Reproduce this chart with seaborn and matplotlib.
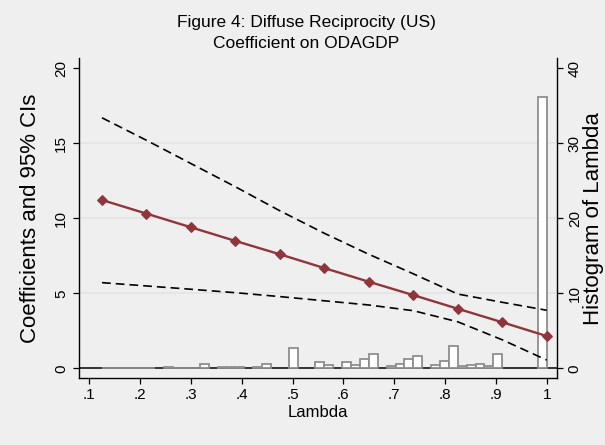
import matplotlib
matplotlib.use("Agg")
import matplotlib.pyplot as plt
import numpy as np
import pandas as pd
import seaborn as sns

# ---------------- data ----------------
lam = [0.125, 0.2125, 0.3, 0.3875, 0.475, 0.5625, 0.65, 0.7375, 0.825, 0.9125, 1.0]
coef = [11.22, 10.31, 9.40, 8.49, 7.60, 6.68, 5.77, 4.88, 3.97, 3.07, 2.15]
ci_upper = [16.7, 15.2, 13.65, 12.1, 10.5, 9.0, 7.6, 6.3, 4.95, 4.4, 3.87]
ci_lower = [5.71, 5.49, 5.27, 5.04, 4.78, 4.5, 4.22, 3.84, 3.1, 1.9, 0.55]

# histogram of lambda (50 bins from 0.125 to 1.0)
hist_start = 0.125
hist_end = 1.0
hist_heights = [0.1, 0.1, 0.1, 0.1, 0.1, 0.1, 0.0, 0.2, 0.1, 0.1,
                0.1, 0.53, 0.0, 0.2, 0.2, 0.2, 0.0, 0.15, 0.53, 0.0,
                0.0, 2.67, 0.0, 0.0, 0.88, 0.4, 0.0, 0.8, 0.4, 1.29,
                1.87, 0.0, 0.35, 0.53, 1.24, 1.69, 0.0, 0.4, 0.93, 2.93,
                0.3, 0.4, 0.53, 0.35, 1.87, 0.0, 0.0, 0.0, 0.0, 36.2]

xticks = [0.1, 0.2, 0.3, 0.4, 0.5, 0.6, 0.7, 0.8, 0.9, 1.0]
xtick_labels = [".1", ".2", ".3", ".4", ".5", ".6", ".7", ".8", ".9", "1"]
yticks_left = [0, 5, 10, 15, 20]
yticks_right = [0, 10, 20, 30, 40]

title = "Figure 4: Diffuse Reciprocity (US)"
subtitle = "Coefficient on ODAGDP"
xlabel = "Lambda"
ylabel_left = "Coefficients and 95% CIs"
ylabel_right = "Histogram of Lambda"

# ---------------- style ----------------
sns.set_theme(style="white")
plt.rcParams['font.family'] = ['Liberation Sans', 'DejaVu Sans']
plt.rcParams['lines.scale_dashes'] = False

BG = "#efefef"
RED = "#90353b"
W, H = 605, 445

fig = plt.figure(figsize=(W / 100, H / 100), dpi=100, facecolor=BG)
L, R, T, B = 79, 556.7, 58.3, 378
ax = fig.add_axes([L / W, 1 - B / H, (R - L) / W, (B - T) / H])
ax2 = ax.twinx()
ax.set_zorder(2)
ax2.set_zorder(1)
ax.patch.set_visible(False)
ax2.patch.set_facecolor("white")

xlim = (0.0797, 1.0197)
ylim = (-0.647, 20.667)
ax.set_xlim(*xlim)
ax.set_ylim(*ylim)
ax2.set_ylim(ylim[0] * 2, ylim[1] * 2)

# grid + zero line on the lower axis
for g in [10, 20, 30]:
    ax2.axhline(g, color="#e3e3e3", lw=1.1, zorder=0)
ax2.axhline(0, color="black", lw=1.1, zorder=0.5)

# histogram
nb = len(hist_heights)
bw = (hist_end - hist_start) / nb
centers = hist_start + bw * (np.arange(nb) + 0.5)
hdf = pd.DataFrame({"lam": centers, "h": hist_heights})
sns.histplot(data=hdf, x="lam", weights="h", bins=nb,
             binrange=(hist_start, hist_end), ax=ax2,
             color="white", edgecolor="#8e8e8e", linewidth=1.3, alpha=1,
             zorder=2)
for p in ax2.patches:
    if p.get_height() == 0:
        p.set_visible(False)
ax2.set_ylim(ylim[0] * 2, ylim[1] * 2)

# lines
df = pd.DataFrame({"lam": lam, "coef": coef, "up": ci_upper, "lo": ci_lower})
for col in ["up", "lo"]:
    sns.lineplot(data=df, x="lam", y=col, ax=ax, color="black", lw=1.2)
    ax.lines[-1].set_dashes((6.3, 3.6))
sns.lineplot(data=df, x="lam", y="coef", ax=ax, color=RED, lw=1.7,
             marker="D", markersize=5.5, markeredgecolor=RED,
             markerfacecolor=RED)
ax.set_xlim(*xlim)
ax.set_ylim(*ylim)

# axes styling
for a in (ax, ax2):
    for s in a.spines.values():
        s.set_visible(False)
ax.spines["left"].set_visible(True)
ax.spines["bottom"].set_visible(True)
ax2.spines["right"].set_visible(True)
for s in (ax.spines["left"], ax.spines["bottom"], ax2.spines["right"]):
    s.set_color("black")
    s.set_linewidth(1.0)

ax.set_xticks(xticks, labels=xtick_labels)
ax.set_yticks(yticks_left, labels=[str(v) for v in yticks_left])
ax2.set_yticks(yticks_right, labels=[str(v) for v in yticks_right])
ax.tick_params(axis="x", length=4.3, width=0.9, color="black", pad=3,
               labelsize=11, labelcolor="black", direction="out", bottom=True)
ax.tick_params(axis="y", length=4.0, width=0.9, color="black", pad=4,
               labelsize=11, labelcolor="black", direction="out", left=True,
               labelrotation=90)
ax2.tick_params(axis="y", length=4.0, width=0.9, color="black", pad=4,
                labelsize=11, labelcolor="black", direction="out", right=True,
                labelrotation=90)
for lab in ax.get_yticklabels() + ax2.get_yticklabels():
    lab.set_va("center")
ax2.grid(False)
ax.grid(False)

ax.set_xlabel(xlabel, fontsize=12, color="black", labelpad=2)
ax.set_ylabel(ylabel_left, fontsize=16, color="black", labelpad=9)
ax2.set_ylabel(ylabel_right, fontsize=16, color="black", labelpad=1)

fig.text(306 / W, 1 - 22 / H, title, ha="center", va="center",
         fontsize=12.5, color="black")
fig.text(306 / W, 1 - 44 / H, subtitle, ha="center", va="center",
         fontsize=12.5, color="black")

fig.savefig("out.png", dpi=100, facecolor=BG)
